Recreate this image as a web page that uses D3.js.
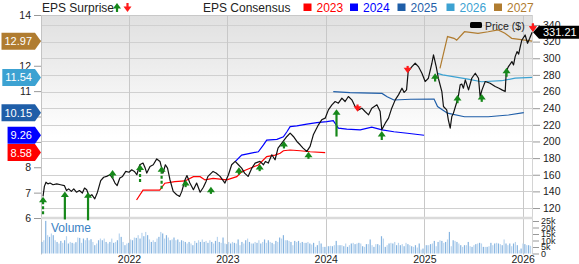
<!DOCTYPE html>
<html><head><meta charset="utf-8">
<script src="https://cdn.jsdelivr.net/npm/d3@7"></script>
<style>
body{margin:0;background:#fff;}
svg{display:block;font-family:"Liberation Sans",Arial,Helvetica,sans-serif;}
</style></head><body>
<svg id="c" width="579" height="264"></svg>
<script>
// ---------------- DATA ----------------
const yearTicks = ["2022","2023","2024","2025","2026"];
const priceTicks = [120,140,160,180,200,220,240,260,280,300,320,340];
const epsTicks = [6,7,8,9,10,11,12,13,14];
const epsTickLabels = ["6","7","8","","","11","12","","14"];
const volumeTicks = [0,5,10,15,20,25];
const consensusYears = ["2023","2024","2025","2026","2027"];
const lastPrice = 331.21;

const priceSeries = [
["2021-02-16",134],["2021-02-21",146],["2021-02-27",151],["2021-03-06",149],["2021-03-14",150],["2021-03-25",148],
["2021-04-08",149],["2021-04-22",148],["2021-05-06",147],["2021-05-14",141],["2021-05-22",143],["2021-06-01",140],
["2021-06-10",143],["2021-06-20",139],["2021-07-01",141],["2021-07-12",138],["2021-07-20",144],["2021-07-28",142],
["2021-08-06",134],["2021-08-16",136],["2021-08-27",131],["2021-09-06",139],["2021-09-18",153],["2021-09-29",157],
["2021-10-10",158],["2021-10-22",160],["2021-11-01",156],["2021-11-10",150],["2021-11-18",147],["2021-11-28",156],
["2021-12-08",158],["2021-12-20",164],["2022-01-01",163],["2022-01-11",166],["2022-01-21",164],["2022-01-30",160],
["2022-02-10",172],["2022-02-22",174],["2022-03-02",168],["2022-03-08",162],["2022-03-20",170],["2022-04-01",172],
["2022-04-14",179],["2022-04-26",176],["2022-05-07",162],["2022-05-16",172],["2022-05-24",168],["2022-06-02",154],
["2022-06-14",140],["2022-06-27",136],["2022-07-08",134],["2022-07-16",140],["2022-07-28",154],["2022-08-04",159],
["2022-08-15",150],["2022-08-28",142],["2022-09-09",150],["2022-09-22",139],["2022-10-04",145],["2022-10-14",152],
["2022-10-21",158],["2022-11-09",164],["2022-11-20",162],["2022-12-05",158],["2022-12-23",150],["2023-01-05",160],
["2023-01-17",172],["2023-01-30",176],["2023-02-11",172],["2023-02-23",168],["2023-03-06",162],["2023-03-19",158],
["2023-04-02",168],["2023-04-14",174],["2023-05-02",176],["2023-05-15",172],["2023-05-22",176],["2023-06-02",174],
["2023-06-15",184],["2023-06-27",178],["2023-07-08",192],["2023-07-27",200],["2023-08-10",206],["2023-08-22",210],
["2023-09-03",206],["2023-09-16",200],["2023-09-28",196],["2023-10-09",192],["2023-10-23",188],["2023-11-04",194],
["2023-11-16",208],["2023-12-05",220],["2023-12-17",226],["2023-12-30",228],["2024-01-11",238],["2024-01-24",244],
["2024-02-05",248],["2024-02-17",246],["2024-03-01",252],["2024-03-13",248],["2024-03-25",254],["2024-04-07",250],
["2024-04-19",242],["2024-05-01",238],["2024-05-14",240],["2024-05-26",236],["2024-06-08",232],["2024-06-20",240],
["2024-07-09",244],["2024-07-21",236],["2024-07-27",214],["2024-08-09",222],["2024-08-21",228],["2024-09-02",240],
["2024-09-15",250],["2024-09-27",256],["2024-10-10",264],["2024-10-18",259],["2024-10-27",262],["2024-11-02",284],
["2024-11-16",290],["2024-11-28",294],["2024-12-10",290],["2024-12-23",282],["2025-01-04",272],["2025-01-16",276],
["2025-01-29",294],["2025-02-04",304],["2025-02-14",290],["2025-02-22",276],["2025-03-07",260],["2025-03-13",242],
["2025-03-25",238],["2025-03-31",226],["2025-04-07",216],["2025-04-13",230],["2025-04-19",234],["2025-05-02",248],
["2025-05-08",256],["2025-05-14",268],["2025-05-20",269],["2025-05-26",264],["2025-06-02",274],["2025-06-14",262],
["2025-06-26",276],["2025-07-09",282],["2025-07-21",276],["2025-07-27",254],["2025-08-03",262],["2025-08-15",272],
["2025-09-02",270],["2025-09-21",266],["2025-10-05",264],["2025-10-16",262],["2025-10-28",260],["2025-11-01",284],
["2025-11-09",290],["2025-11-22",296],["2025-11-28",292],["2025-12-04",302],["2025-12-11",308],["2025-12-17",305],
["2025-12-23",314],["2025-12-29",322],["2026-01-10",328],["2026-01-19",318],["2026-01-27",324],["2026-02-05",331.21]
];

const eps2023 = [["2022-01-29",6.71],["2022-02-22",7.10],["2022-04-25",7.10],["2022-05-14",7.37],["2022-06-20",7.43],
["2022-07-28",7.46],["2022-08-28",7.63],["2022-09-22",7.63],["2022-10-10",7.50],["2022-11-09",7.56],["2022-12-30",7.50],
["2023-02-05",7.63],["2023-02-23",7.82],["2023-03-26",7.96],["2023-04-26",8.09],["2023-05-27",8.42],["2023-06-27",8.48],
["2023-07-16",8.55],["2023-07-28",8.65],["2023-08-22",8.68],["2023-09-28",8.65],["2023-11-04",8.61],["2023-12-30",8.58]];

const eps2024 = [["2023-01-30",8.22],["2023-02-23",8.48],["2023-03-26",8.55],["2023-04-26",8.61],["2023-05-15",8.88],
["2023-05-27",9.07],["2023-07-04",9.10],["2023-07-28",9.20],["2023-08-10",9.40],["2023-08-22",9.60],["2023-09-16",9.63],
["2023-10-23",9.70],["2023-11-29",9.76],["2024-01-05",9.80],["2024-01-29",9.84],["2024-02-17",9.54],["2024-03-19",9.50],
["2024-05-08",9.47],["2024-06-20",9.58],["2024-07-28",9.47],["2024-09-10",9.40],["2024-10-30",9.34],["2024-12-31",9.26]];

const eps2025 = [["2024-01-29",10.98],["2024-03-31",10.94],["2024-07-28",10.91],["2024-08-16",10.78],["2024-09-10",10.65],
["2024-11-11",10.68],["2025-02-06",10.69],["2025-02-19",10.39],["2025-03-10",10.26],["2025-03-28",10.13],
["2025-05-30",9.99],["2025-08-26",9.99],["2025-11-09",10.06],["2026-01-05",10.15]];

const eps2026 = [["2025-02-19",11.70],["2025-03-10",11.64],["2025-06-12",11.47],["2025-08-01",11.37],["2025-10-15",11.41],
["2025-12-04",11.51],["2026-02-05",11.54]];

const eps2027 = [["2025-02-28",11.90],["2025-03-28",13.15],["2025-04-21",13.08],["2025-05-01",13.01],["2025-05-30",13.34],
["2025-07-19",13.28],["2025-08-26",13.34],["2025-10-02",13.41],["2025-10-27",13.28],["2025-11-21",13.08],
["2026-01-09",13.01],["2026-02-05",12.97]];

// EPS surprises: report date, surprise (%), price level where the arrow sits, dashed stem
const surpriseDates = ["2021-02-16","2021-05-08","2021-08-02","2021-11-01","2022-02-11","2022-05-02","2022-07-30",
"2022-11-01","2023-02-13","2023-05-01","2023-07-30","2023-10-29","2024-02-10","2024-04-28","2024-07-27","2024-10-31",
"2025-02-10","2025-05-04","2025-08-02","2025-11-02","2026-02-08"];
const surpriseValues = [14,26,26,1.5,14,21,0.2,0.2,0.2,0.2,0.5,0.2,25,-0.2,2.5,-0.5,1.5,1.5,1,2.5,-1.5];
const surpriseAt = [133.6,139.9,138.9,165.7,172.3,170.1,153.7,145.6,168.9,172.9,200.5,187.7,238.6,235.8,212.6,281.9,
281.9,255.8,257,288.6,331.9];
const surpriseDashed = [true,false,false,false,true,true,false,false,false,false,false,false,false,false,false,false,
false,false,false,false,false];

// weekly volume (thousands), from 2021-02-12
const volumeStart = "2021-02-12";
const volumeK = [
8.9,10.2,25.1,14.1,12.8,15.4,14.1, 10.2,8.9,7.7,9.7,8.2,10.2,13.3, 7.7,8.9,8.2,7.7,8.7,12.3,12.0,
8.2,11.5,10.2,12.0,10.2,11.0,8.9, 6.4,7.7,10.2,11.5,10.2,11.5,8.9, 7.7,8.9,11.5,8.2,8.9,10.2,15.4,
12.8,8.9,6.4,7.7,8.2,10.8,10.2, 12.3,12.0,14.1,11.5,15.9,13.3,16.6, 14.1,10.8,8.9,10.2,8.9,11.5,12.8,
16.6,15.4,11.5,14.1,12.3,10.2,10.8, 12.3,10.2,10.8,8.9,10.2,9.7,8.9, 7.7,8.9,7.7,6.4,9.7,8.2,10.2,
8.9,10.8,8.9,9.7,8.2,10.2,8.9, 7.7,9.7,12.8,8.9,8.2,12.3,7.7, 7.2,8.9,7.7,8.9,8.2,7.7,10.8,
6.4,8.9,7.7,10.2,11.5,8.9,7.7, 7.7,8.9,8.2,10.2,7.7,8.9,10.8, 8.2,10.2,8.9,8.2,7.2,9.7,8.9,
12.3,11.5,14.1,10.2,10.2,9.7,8.9, 6.4,9.7,8.9,9.7,8.2,8.9,8.2, 8.2,8.9,7.7,6.9,8.2,5.1,6.4,
9.7,7.7,5.1,5.1,5.6,5.6,5.9, 5.6,6.4,9.7,6.4,6.4,6.4,5.6, 7.7,5.1,6.4,7.7,8.2,7.2,7.7,
8.2,7.7,5.6,5.1,7.2,7.2,10.8, 6.4,5.1,7.2,7.2,6.4,13.3,11.5, 5.1,6.4,7.7,8.2,7.7,8.9,6.4,
8.2,6.4,7.2,5.6,8.2,7.2,6.4, 5.6,5.1,6.4,4.6,7.7,3.0,3.8, 6.4,6.4,6.4,7.2,7.7,9.7,5.6,
8.9,10.2,9.7,8.2,8.9,10.8,16.6, 5.6,10.2,9.7,8.9,7.7,6.4,5.1, 6.4,6.4,8.9,5.6,5.1,6.4,7.2,
7.7,8.2,7.7,5.1,5.1,5.1,5.6, 8.2,6.4,7.7,8.2,7.7,7.2,6.4, 10.8,7.7,6.4,7.7,5.6,7.7,8.9,
6.4,2.5,3.8,7.7,7.2,6.4,6.4, 5.9];

// ---------------- DRAW ----------------
const parse = d3.utcParse("%Y-%m-%d");
const L = 41, R = 533, T = 15, PB = 218, VB = 253.5;
const svg = d3.select("#c");

const x = d3.scaleUtc().domain([parse("2022-01-01"), parse("2026-01-01")]).range([129, 522.7]);
const yP = d3.scaleLinear().domain([108, 352]).range([PB, T]);
const yE = d3.scaleLinear().domain([6, 14]).range([PB, T]);
const yV = d3.scaleLinear().domain([0, 25]).range([VB, 221]);

const colors = {"2023":"#ff0000","2024":"#0000ff","2025":"#1f5ea8","2026":"#3ca2d2","2027":"#b07c30"};
const epsSeries = {"2023":eps2023,"2024":eps2024,"2025":eps2025,"2026":eps2026,"2027":eps2027};

const defs = svg.append("defs");
const g = defs.append("linearGradient").attr("id","bg").attr("x1",0).attr("y1",0).attr("x2",0).attr("y2",1);
g.append("stop").attr("offset","0").attr("stop-color","#e0e0e0");
g.append("stop").attr("offset","0.6").attr("stop-color","#ffffff");
defs.append("clipPath").attr("id","clip").append("rect").attr("x",L).attr("y",T).attr("width",R-L).attr("height",VB-T);

svg.append("rect").attr("x",L).attr("y",T).attr("width",R-L).attr("height",PB-T).attr("fill","url(#bg)");

// horizontal gridlines (price)
svg.append("g").selectAll("line").data(priceTicks).join("line")
  .attr("x1",L).attr("x2",R).attr("y1",d=>Math.round(yP(d))+0.5).attr("y2",d=>Math.round(yP(d))+0.5)
  .attr("stroke","#d0d0d0").attr("stroke-width",1);
// vertical year gridlines
svg.append("g").selectAll("line").data(yearTicks).join("line")
  .attr("x1",d=>Math.round(x(parse(d+"-01-01")))+0.5).attr("x2",d=>Math.round(x(parse(d+"-01-01")))+0.5)
  .attr("y1",T).attr("y2",VB+1).attr("stroke","#c8c8c8");
// border
svg.append("line").attr("x1",L+0.5).attr("x2",L+0.5).attr("y1",T).attr("y2",VB+1).attr("stroke","#c4c4c4");
svg.append("line").attr("x1",L).attr("x2",R).attr("y1",T+0.5).attr("y2",T+0.5).attr("stroke","#c8c8c8");
svg.append("line").attr("x1",R-0.5).attr("x2",R-0.5).attr("y1",T).attr("y2",VB+1).attr("stroke","#d4d4d4");
svg.append("line").attr("x1",L).attr("x2",R).attr("y1",PB).attr("y2",PB).attr("stroke","#dadada").attr("stroke-width",2.5);

// volume bars
const vStart = parse(volumeStart);
svg.append("g").selectAll("rect").data(volumeK).join("rect")
  .attr("x",(d,i)=>x(d3.utcDay.offset(vStart,7*i))-0.6).attr("width",1.2)
  .attr("y",d=>yV(d)).attr("height",d=>VB-yV(d))
  .attr("fill",(d,i)=> i%2 ? "#bad5ef" : "#86b4e0");
svg.append("text").attr("x",51).attr("y",232).attr("font-size",12).attr("fill","#3a82c4").text("Volume");

const plot = svg.append("g").attr("clip-path","url(#clip)");
// EPS consensus lines
const lineE = d3.line().x(d=>x(parse(d[0]))).y(d=>yE(d[1]));
consensusYears.forEach(k=>{
  plot.append("path").attr("d",lineE(epsSeries[k])).attr("fill","none").attr("stroke",colors[k]).attr("stroke-width",1.2);
});
// price line
const lineP = d3.line().x(d=>x(parse(d[0]))).y(d=>yP(d[1]));
plot.append("path").attr("d",lineP(priceSeries)).attr("fill","none").attr("stroke","#111").attr("stroke-width",1.2)
  .attr("stroke-linejoin","round");

// arrows
const lenScale = d3.scaleLinear().domain([0,26]).range([7,28]).clamp(true);
function arrow(sel, cx, tip, up, len, dashed){
  const c = up ? "#16881a" : "#ff1a1a";
  const s = up ? 1 : -1;
  sel.append("line").attr("x1",cx).attr("x2",cx).attr("y1",tip+s*4.5).attr("y2",tip+s*len)
    .attr("stroke",c).attr("stroke-width",2.2).attr("stroke-dasharray",dashed?"3,2":null);
  sel.append("path").attr("d",`M${cx},${tip}L${cx-4},${tip+s*5.5}L${cx+4},${tip+s*5.5}Z`).attr("fill",c);
}
const arrowsG = svg.append("g");
surpriseDates.forEach((d,i)=>{
  const v = surpriseValues[i];
  arrow(arrowsG, x(parse(d)), yP(surpriseAt[i]), v>=0, lenScale(Math.abs(v)), surpriseDashed[i]);
});

// axes
const axL = svg.append("g").attr("transform",`translate(${L},0)`)
  .call(d3.axisLeft(yE).tickValues(epsTicks).tickSize(7).tickPadding(3).tickFormat((d,i)=>epsTickLabels[i]));
const axR = svg.append("g").attr("transform",`translate(${R},0)`)
  .call(d3.axisRight(yP).tickValues(priceTicks).tickSize(7).tickPadding(3));
const axV = svg.append("g").attr("transform",`translate(${R},0)`)
  .call(d3.axisRight(yV).tickValues(volumeTicks).tickSize(6).tickPadding(2).tickFormat(d=>d?d+"k":"0"));
const axX = svg.append("g").attr("transform",`translate(0,${VB})`)
  .call(d3.axisBottom(x).tickValues(yearTicks.map(d=>parse(d+"-01-01"))).tickSize(0).tickPadding(2)
    .tickFormat(d3.utcFormat("%Y")));
[axL,axR,axV,axX].forEach(a=>{
  a.select(".domain").remove();
  a.selectAll(".tick line").attr("stroke","#999");
  a.selectAll("text").attr("fill","#222").attr("font-size",10.5).attr("font-family","Liberation Sans, Arial, sans-serif");
});
axV.selectAll("text").attr("font-size",9);

// consensus flags on the left
consensusYears.forEach(k=>{
  const ser = epsSeries[k], v = ser[ser.length-1][1], yc = yE(v);
  const fg = svg.append("g");
  const t = fg.append("text").attr("font-size",11).attr("fill","#fff").attr("y",yc+4).text(d3.format(".2f")(v));
  const w = t.node().getComputedTextLength();
  const left = 35 - w - 6;
  fg.insert("path","text").attr("d",`M${left},${yc-8.5}H35L41,${yc}L35,${yc+8.5}H${left}Z`).attr("fill",colors[k]);
  t.attr("x",left+3);
});

// last price box
const yl = yP(lastPrice);
svg.append("path").attr("d",`M${R},${yl}L${R+6},${yl-6.5}H579V${yl+6.5}H${R+6}Z`).attr("fill","#000");
svg.append("text").attr("x",543).attr("y",yl+4).attr("font-size",11).attr("fill","#fff").text(d3.format(".2f")(lastPrice));
// redraw last surprise arrow on top of the box
{
  const i = surpriseDates.length-1, v = surpriseValues[i];
  arrow(svg.append("g"), x(parse(surpriseDates[i])), yP(surpriseAt[i]), v>=0, lenScale(Math.abs(v)), surpriseDashed[i]);
}

// header legend
svg.append("text").attr("x",42).attr("y",12).attr("font-size",12).attr("fill","#222").text("EPS Surprise");
arrow(svg.append("g"), 117, 3, true, 9, false);
arrow(svg.append("g"), 127.5, 12, false, 9, false);
svg.append("text").attr("x",203).attr("y",12).attr("font-size",12).attr("fill","#222").text("EPS Consensus");
const legX = [303.5, 350, 397.5, 446.5, 494];
consensusYears.forEach((k,i)=>{
  svg.append("rect").attr("x",legX[i]).attr("y",3.5).attr("width",8).attr("height",7.5).attr("fill",colors[k]);
  svg.append("text").attr("x",legX[i]+13).attr("y",12).attr("font-size",12).attr("fill",colors[k]).text(k);
});
svg.append("rect").attr("x",470).attr("y",22).attr("width",12).attr("height",6).attr("rx",1.5).attr("fill","#000");
svg.append("text").attr("x",485).attr("y",29.5).attr("font-size",10.5).attr("fill","#222").text("Price ($)");
</script>
</body></html>
